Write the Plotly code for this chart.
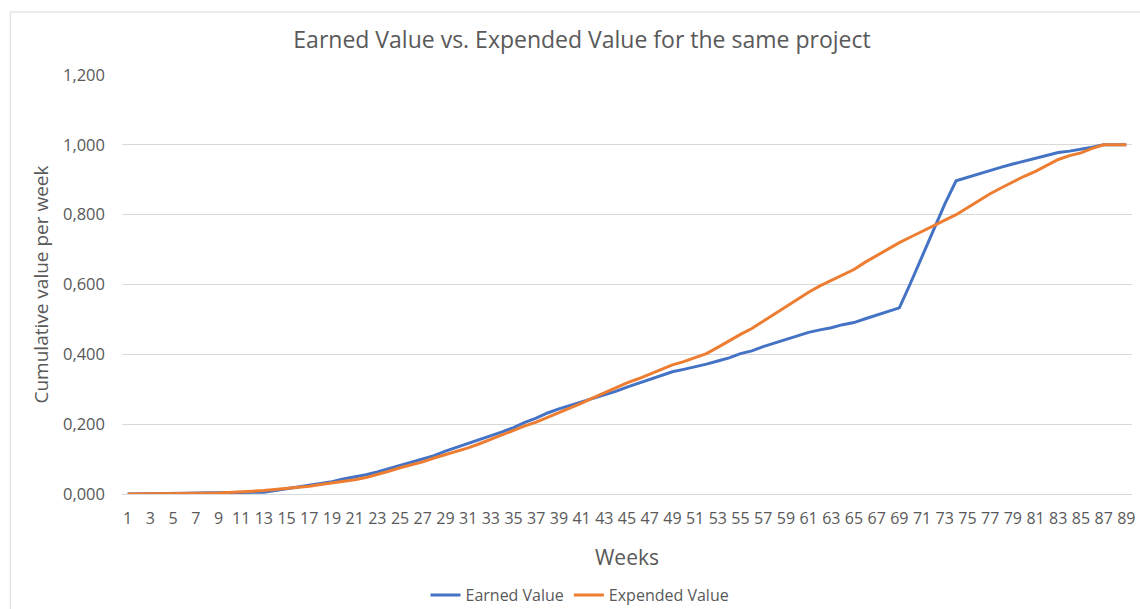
import plotly.graph_objects as go

# weekly cumulative values
weeks = list(range(1, 90))

earned_value = [
    0.000, 0.000, 0.000, 0.000, 0.000, 0.002, 0.003, 0.003, 0.005, 0.005,
    0.005, 0.005, 0.005, 0.010, 0.015, 0.018, 0.025, 0.030, 0.035, 0.043,
    0.048, 0.055, 0.063, 0.072, 0.083, 0.090, 0.099, 0.110, 0.123, 0.134,
    0.143, 0.155, 0.167, 0.178, 0.190, 0.205, 0.217, 0.232, 0.244, 0.254,
    0.262, 0.272, 0.282, 0.294, 0.306, 0.317, 0.329, 0.340, 0.350, 0.357,
    0.364, 0.372, 0.381, 0.390, 0.402, 0.410, 0.422, 0.432, 0.443, 0.454,
    0.463, 0.470, 0.476, 0.485, 0.491, 0.502, 0.513, 0.522, 0.533, 0.605,
    0.680, 0.755, 0.830, 0.897, 0.907, 0.918, 0.926, 0.936, 0.945, 0.953,
    0.960, 0.968, 0.978, 0.982, 0.987, 0.993, 1.000, 1.000, 1.000,
]

expended_value = [
    0.000, 0.000, 0.000, 0.000, 0.000, 0.001, 0.002, 0.002, 0.003, 0.004,
    0.006, 0.008, 0.010, 0.013, 0.015, 0.018, 0.022, 0.027, 0.031, 0.036,
    0.041, 0.047, 0.055, 0.065, 0.075, 0.083, 0.092, 0.103, 0.112, 0.121,
    0.132, 0.144, 0.157, 0.169, 0.183, 0.195, 0.206, 0.219, 0.232, 0.246,
    0.260, 0.275, 0.290, 0.304, 0.318, 0.330, 0.344, 0.358, 0.370, 0.379,
    0.390, 0.402, 0.420, 0.439, 0.457, 0.474, 0.495, 0.516, 0.536, 0.558,
    0.578, 0.596, 0.611, 0.626, 0.643, 0.664, 0.683, 0.701, 0.720, 0.736,
    0.752, 0.768, 0.783, 0.800, 0.820, 0.840, 0.860, 0.877, 0.894, 0.910,
    0.924, 0.942, 0.958, 0.969, 0.977, 0.990, 1.000, 1.000, 1.000,
]

x_ticks = weeks[::2]
x_tick_labels = [str(w) for w in x_ticks]
y_ticks = [0, 0.2, 0.4, 0.6, 0.8, 1.0, 1.2]

FONT = "Open Sans"
GREY_TEXT = "#595959"
GRID = "#d9d9d9"

fig = go.Figure()
fig.add_trace(go.Scatter(
    x=weeks, y=earned_value, name="Earned Value", mode="lines",
    line=dict(color="#4472C4", width=3)))
fig.add_trace(go.Scatter(
    x=weeks, y=expended_value, name="Expended Value", mode="lines",
    line=dict(color="#ED7D31", width=3)))

# thin chart-area frame like the Excel chart border
fig.add_shape(type="rect", xref="paper", yref="paper",
              x0=-0.1106, x1=1.2, y0=-0.5, y1=1.1504,
              line=dict(color=GRID, width=1), layer="below")

fig.update_layout(
    width=1140, height=609,
    margin=dict(l=122, r=5, t=75, b=115),
    paper_bgcolor="white", plot_bgcolor="white",
    separators=",.",
    font=dict(family=FONT, color=GREY_TEXT, size=16),
    title=dict(text="Earned Value vs. Expended Value for the same project",
               x=582 / 1140, xanchor="center", xref="container",
               y=1 - 40 / 609, yanchor="middle", yref="container",
               font=dict(size=23, color=GREY_TEXT)),
    showlegend=True,
    legend=dict(orientation="h", xref="container", yref="container",
                x=580 / 1140, xanchor="center", y=1 - 595 / 609, yanchor="middle",
                font=dict(size=16, color=GREY_TEXT), itemwidth=30,
                bgcolor="rgba(0,0,0,0)"),
)

fig.update_xaxes(
    range=[0.5, 89.5], tickmode="array", tickvals=x_ticks, ticktext=x_tick_labels,
    showgrid=False, zeroline=False, showline=False, ticks="",
    ticklabelstandoff=13,
    tickfont=dict(size=16, color=GREY_TEXT),
    title=dict(text="Weeks", font=dict(size=21, color=GREY_TEXT), standoff=22),
)
fig.update_yaxes(
    range=[0, 1.2], tickmode="array", tickvals=y_ticks, tickformat=".3f",
    showgrid=True, gridcolor=GRID, gridwidth=1,
    zeroline=True, zerolinecolor=GRID, zerolinewidth=1,
    showline=False, ticks="", ticklabelstandoff=16,
    tickfont=dict(size=16.5, color=GREY_TEXT),
    title=dict(text="Cumulative value per week", font=dict(size=19, color=GREY_TEXT),
               standoff=9),
)

fig.write_html("out.html", config={"displayModeBar": False},
               post_script="document.body.style.margin='0px';")
